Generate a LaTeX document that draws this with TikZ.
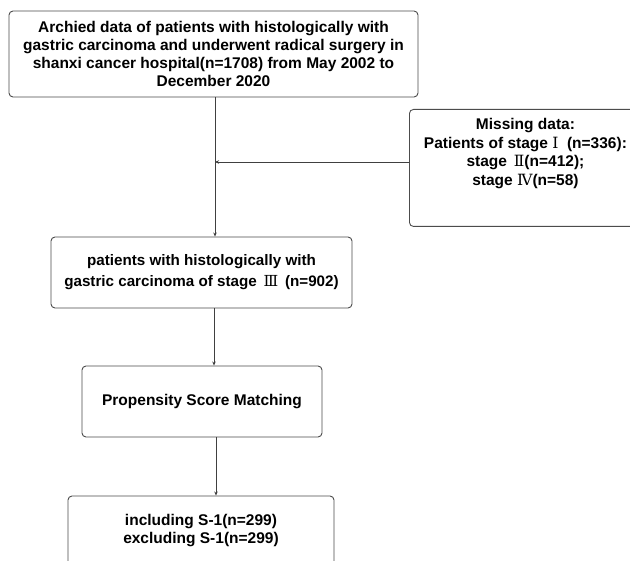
\documentclass[tikz,border=0pt]{standalone}
\usepackage{fontspec}
\setmainfont{Liberation Sans}
\newfontfamily\romfont{DejaVu Serif}
\usetikzlibrary{arrows.meta}
\newcommand{\rn}[1]{{\romfont\mdseries #1}}
\tikzset{
  box/.style={draw=black!70, line width=0.9pt, rounded corners=4pt, align=center,
    font=\fontsize{15.5}{18}\selectfont\bfseries, inner sep=0pt},
  arr/.style={draw=black!75, line width=0.8pt, -{Stealth[length=4pt,width=3.5pt]}}
}
\begin{document}
\begin{tikzpicture}[x=1pt,y=-1pt]
\clip (0,0) rectangle (630,561);
\useasboundingbox (0,0) rectangle (630,561);
\fill[white] (0,0) rectangle (630,561);
\coordinate (sp) at (215,0);
\node[box, minimum width=409pt, minimum height=86pt] (b1) at (213.5,54)
  {Archied data of patients with histologically with\\
   gastric carcinoma and underwent radical surgery in\\
   shanxi cancer hospital(n=1708) from May 2002 to\\
   December 2020};
\node[box, minimum width=232pt, minimum height=117pt, anchor=north west,
  font=\fontsize{15.5}{18.5}\selectfont\bfseries] (mis) at (409,109)
  {Missing data:\\
   Patients of stage \rn{Ⅰ}\ \ (n=336):\\
   stage \,\rn{Ⅱ}(n=412);\\
   stage \rn{Ⅳ}(n=58)\\[14pt]\mbox{}};
\node[box, minimum width=301pt, minimum height=71pt,
  font=\fontsize{15.2}{21}\selectfont\bfseries] (b2) at (201.5,272.5)
  {patients with histologically with\\
   gastric carcinoma of stage \,\rn{Ⅲ}\, (n=902)};
\node[box, minimum width=240pt, minimum height=71pt] (b3) at (202,401.5)
  {Propensity Score Matching};
\node[box, minimum width=266pt, minimum height=70pt] (b4) at (201,531)
  {including S-1(n=299)\\ excluding S-1(n=299)};
\draw[arr] (b1.south -| sp) -- (b2.north -| sp);
\draw[arr] (mis.west |- 0,162) -- (sp |- 0,162);
\draw[arr] (b2.south -| 214,0) -- (b3.north -| 214,0);
\draw[arr] (b3.south -| 216,0) -- (b4.north -| 216,0);
\end{tikzpicture}
\end{document}
